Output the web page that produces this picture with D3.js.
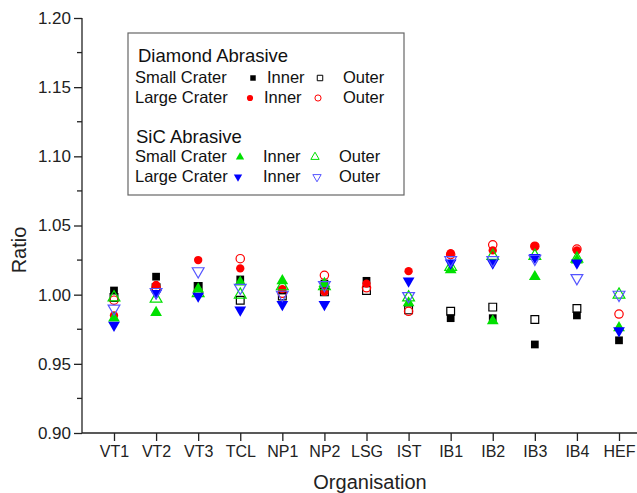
<!DOCTYPE html>
<html>
<head>
<meta charset="utf-8">
<script src="https://cdn.jsdelivr.net/npm/d3@7"></script>
<style>
  body { margin: 0; background: #fff; }
  svg { font-family: "Liberation Sans", Arial, sans-serif; }
</style>
</head>
<body>
<svg id="chart" width="637" height="493"></svg>
<script>
var organisations = ["VT1", "VT2", "VT3", "TCL", "NP1", "NP2", "LSG", "IST", "IB1", "IB2", "IB3", "IB4", "HEF"];
var yTicks = [0.90, 0.95, 1.00, 1.05, 1.10, 1.15, 1.20];

// Diamond abrasive
var diaSmallInner = [1.003, 1.013, 1.006, 1.011, 1.003, 1.008, 1.010, null, 0.983, 0.983, 0.964, 0.985, 0.967];
var diaSmallOuter = [0.998, 1.005, 1.006, 0.996, 0.999, 1.002, 1.003, 0.989, 0.988, 0.991, 0.982, 0.990, null];
var diaLargeInner = [0.985, 1.007, 1.025, 1.019, 1.004, 1.002, 1.008, 1.017, 1.030, 1.032, 1.035, 1.032, null];
var diaLargeOuter = [0.996, 1.005, 1.002, 1.026, 1.001, 1.014, 1.005, 0.988, 1.029, 1.036, 1.035, 1.033, 0.986];
// SiC abrasive
var sicSmallInner = [0.983, 0.987, 1.004, 1.009, 1.010, 1.008, null, 0.994, 1.018, 0.981, 1.013, 1.025, 0.976];
var sicSmallOuter = [0.998, 0.997, 1.001, 1.000, 1.006, 1.006, null, 0.998, 1.020, 1.028, 1.028, 1.026, 1.000];
var sicLargeInner = [0.978, 1.001, 0.999, 0.989, 0.993, 0.993, null, 1.010, 1.023, 1.023, 1.027, 1.023, 0.974];
var sicLargeOuter = [0.990, 1.002, 1.017, 1.005, 1.000, 1.007, null, 0.999, 1.025, 1.025, 1.026, 1.012, 1.000];

var series = [
  { values: diaSmallInner, shape: "square", color: "#000", filled: true },
  { values: diaSmallOuter, shape: "square", color: "#000", filled: false },
  { values: diaLargeInner, shape: "circle", color: "#f00", filled: true },
  { values: diaLargeOuter, shape: "circle", color: "#f00", filled: false },
  { values: sicSmallInner, shape: "up", color: "#00e000", filled: true },
  { values: sicSmallOuter, shape: "up", color: "#00e000", filled: false },
  { values: sicLargeInner, shape: "down", color: "#0000ff", filled: true },
  { values: sicLargeOuter, shape: "down", color: "#5555ff", filled: false }
];

var svg = d3.select("#chart");
var axLeft = 82, axBottom = 433, axTop = 18, axRight = 637;

var x = d3.scaleLinear().domain([0, 12]).range([114, 619]);
var y = d3.scaleLinear().domain([0.90, 1.20]).range([axBottom, axTop]);

function symbolFor(shape, size) {
  if (shape === "square") return d3.symbol().type(d3.symbolSquare).size(size)();
  if (shape === "circle") return d3.symbol().type(d3.symbolCircle).size(size)();
  return d3.symbol().type(d3.symbolTriangle).size(size)();
}

// y axis
var yAxis = d3.axisLeft(y).tickValues(yTicks).tickFormat(d3.format(".2f")).tickSize(8).tickPadding(3);
var gy = svg.append("g").attr("transform", "translate(" + axLeft + ",0)").call(yAxis);
gy.selectAll("text").style("font-size", "17px").attr("fill", "#222");
var minor = d3.range(0.925, 1.2, 0.05);
gy.selectAll(".minor").data(minor).enter().append("line")
  .attr("x1", -5).attr("x2", 0)
  .attr("y1", function(d) { return y(d); }).attr("y2", function(d) { return y(d); })
  .attr("stroke", "#222").attr("stroke-width", 1.3);

// x axis
var xAxis = d3.axisBottom(x).tickValues(d3.range(13)).tickFormat(function(i) { return organisations[i]; })
  .tickSize(8).tickPadding(5);
var gx = svg.append("g").attr("transform", "translate(0," + axBottom + ")").call(xAxis);
gx.selectAll("text").style("font-size", "16px").attr("fill", "#222");
gx.select(".domain").attr("d", "M" + axLeft + ",0H" + axRight);
gy.select(".domain").attr("d", "M0," + axTop + "V" + axBottom);
svg.selectAll(".domain, .tick line").attr("stroke", "#222").attr("stroke-width", 1.3);

svg.append("text").attr("x", 370).attr("y", 489).attr("text-anchor", "middle")
  .style("font-size", "20px").attr("fill", "#222").text("Organisation");
svg.append("text").attr("transform", "translate(26,250) rotate(-90)").attr("text-anchor", "middle")
  .style("font-size", "20px").attr("fill", "#222").text("Ratio");

// points
series.forEach(function(s) {
  var pts = s.values.map(function(v, i) { return { i: i, v: v }; }).filter(function(d) { return d.v !== null; });
  svg.append("g").selectAll("path").data(pts).enter().append("path")
    .attr("d", symbolFor(s.shape, s.shape === "circle" ? 55 : 60))
    .attr("transform", function(d) {
      return "translate(" + x(d.i) + "," + y(d.v) + ")" + (s.shape === "down" ? " rotate(180)" : "");
    })
    .attr("fill", s.filled ? s.color : "none")
    .attr("stroke", s.filled ? "none" : s.color)
    .attr("stroke-width", 1.2);
});

// legend
var lg = svg.append("g");
lg.append("rect").attr("x", 128).attr("y", 33).attr("width", 276).attr("height", 162)
  .attr("fill", "#fff").attr("stroke", "#666").attr("stroke-width", 1.2);
function ltext(tx, ty, t, size) {
  lg.append("text").attr("x", tx).attr("y", ty).style("font-size", size + "px").attr("fill", "#111").text(t);
}
function lmark(mx, my, idx) {
  var s = series[idx];
  lg.append("path").attr("d", symbolFor(s.shape, 30))
    .attr("transform", "translate(" + mx + "," + my + ")" + (s.shape === "down" ? " rotate(180)" : ""))
    .attr("fill", s.filled ? s.color : "none")
    .attr("stroke", s.filled ? "none" : s.color).attr("stroke-width", 1);
}
ltext(138, 62, "Diamond Abrasive", 18.5);
ltext(135, 83, "Small Crater", 16.5); lmark(253, 78, 0); ltext(267, 83, "Inner", 16.5); lmark(320, 78, 1); ltext(343, 83, "Outer", 16.5);
ltext(135, 103, "Large Crater", 16.5); lmark(250, 98, 2); ltext(264, 103, "Inner", 16.5); lmark(318, 98, 3); ltext(343, 103, "Outer", 16.5);
ltext(136, 143, "SiC Abrasive", 18.5);
ltext(135, 162, "Small Crater", 16.5); lmark(240, 157, 4); ltext(263, 162, "Inner", 16.5); lmark(315, 157, 5); ltext(339, 162, "Outer", 16.5);
ltext(135, 182, "Large Crater", 16.5); lmark(238, 177, 6); ltext(263, 182, "Inner", 16.5); lmark(317, 177, 7); ltext(339, 182, "Outer", 16.5);
</script>
</body>
</html>
